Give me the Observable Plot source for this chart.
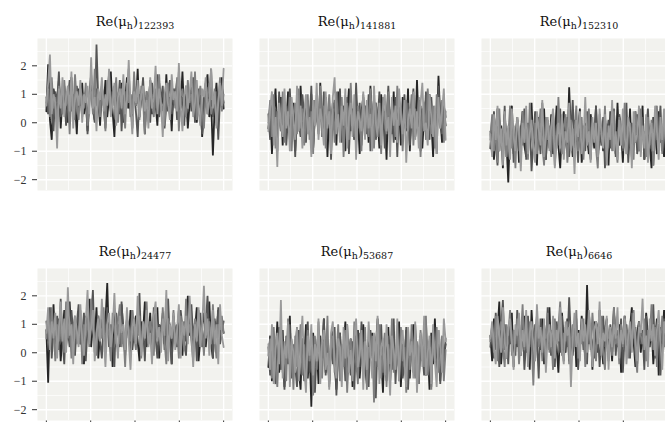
<!DOCTYPE html>
<html>
<head>
<meta charset="utf-8">
<script src="https://cdn.jsdelivr.net/npm/d3@7"></script>
<script src="https://cdn.jsdelivr.net/npm/@observablehq/plot@0.6"></script>
<style>
  html, body { margin: 0; padding: 0; background: #ffffff; overflow: hidden; width: 665px; height: 422px; }
  #chart svg { max-width: none !important; display: block; }
</style>
</head>
<body>
<div id="chart"></div>
<script>
// Trace plots of Re(mu_h) for six parameters, four chains each (thinned draws).
const parameters = ["122393", "141881", "152310", "24477", "53687", "6646"];
const chainNames = ["1", "2", "3", "4"];
const chainColors = ["#262626", "#555555", "#7f7f7f", "#9a9a9a"];

const yTicks = [-2, -1, 0, 1, 2];
const yGridMajor = [-2, -1, 0, 1, 2];
const yGridMinor = [-1.5, -0.5, 0.5, 1.5, 2.5];
const xTicks = [0, 250, 500, 750, 1000];
const xGridMinor = [125, 375, 625, 875];

const draws122393 = [
  [0.4,2.05,0.1,-0.6,1.2,0.8,0.3,1.5,-0.2,0.9,1.3,0.5,0.0,1.1,1.6,0.2,0.7,-0.4,1.2,0.6,1.4,0.3,0.9,-0.3,1.0,1.7,0.5,0.1,1.2,0.8,-0.1,1.3,0.6,1.5,0.2,0.9,1.8,0.4,-0.5,1.1,0.7,0.3,1.4,0.0,0.8,1.6,0.5,1.0,-0.2,1.3,0.6,1.9,0.2,0.8,1.2,-0.4,0.9,0.5,1.5,0.3,1.1,0.7,-0.1,1.4,0.6,1.0,0.2,1.7,0.4,0.9,-0.3,1.2,0.8,1.5,0.1,0.6,1.8,0.3,1.0,-0.2,0.7,1.3,0.5,1.6,0.0,0.9,1.2,-0.5,0.4,1.1,1.7,0.2,0.8,-1.15,0.6,1.4,0.1,0.9,1.6,0.5],
  [0.9,0.3,1.4,0.6,-0.3,1.1,0.7,1.8,0.2,0.5,1.2,-0.1,0.8,1.5,0.4,1.0,0.1,1.3,0.6,0.9,0.2,0.9,1.1,-0.4,0.7,1.4,0.5,0.0,2.75,0.8,0.3,1.2,0.6,-0.2,1.0,1.7,0.4,0.8,1.3,0.1,0.6,1.5,-0.3,0.9,1.1,0.5,1.9,0.2,0.7,1.2,0.4,-0.5,1.0,0.8,1.6,0.3,1.1,0.6,0.0,1.4,0.9,0.5,1.7,0.2,0.8,1.3,-0.2,0.6,1.0,1.5,0.3,0.7,1.2,0.1,1.8,0.5,0.9,-0.1,1.3,0.6,1.1,0.4,1.6,0.0,0.8,1.2,0.5,-0.4,1.0,1.4,0.3,0.7,1.9,0.2,0.6,1.1,-0.6,0.9,1.3,0.7],
  [0.7,1.2,0.2,1.6,0.5,0.9,-0.2,1.3,0.8,0.3,1.5,0.6,1.0,-0.4,1.1,0.4,1.7,0.7,0.1,1.2,0.9,0.5,1.4,-0.1,0.8,1.1,0.3,1.9,0.6,1.0,0.2,1.3,0.7,-0.3,1.5,0.8,0.4,1.1,0.6,1.6,0.0,0.9,1.2,0.5,-0.2,1.4,0.7,1.0,0.3,1.8,0.6,0.9,0.1,1.3,0.8,-0.4,1.1,0.5,1.5,0.7,0.2,1.2,0.9,1.7,0.4,0.6,-0.1,1.0,1.4,0.3,0.8,1.1,0.5,1.6,-0.3,0.9,1.2,0.6,0.2,1.5,0.7,1.0,0.4,1.8,0.1,0.8,1.3,0.5,-0.2,1.1,0.9,1.4,0.3,0.6,1.2,-0.1,0.8,1.6,0.4,1.0],
  [0.6,1.4,2.4,0.3,1.0,0.7,-0.9,1.2,0.5,1.6,0.2,0.9,1.3,0.4,1.8,-0.2,0.8,1.1,0.6,1.5,0.0,1.0,0.7,1.3,0.3,2.3,0.5,0.9,-0.3,1.2,0.8,1.6,0.4,1.0,0.6,1.9,0.2,0.7,1.4,-0.1,0.9,1.2,0.5,1.7,0.3,0.8,2.2,0.6,-0.4,1.1,0.7,1.5,0.2,1.0,1.3,0.4,0.8,-0.2,1.6,0.5,0.9,2.0,0.3,1.2,0.7,-0.5,1.0,1.4,0.6,0.1,1.7,0.8,1.1,0.4,2.1,0.6,-0.3,0.9,1.3,0.5,1.0,1.8,0.2,0.7,1.5,0.4,-0.1,1.2,0.9,1.6,0.3,0.8,1.9,0.5,1.1,-0.2,0.7,1.4,0.6,1.9]
];

const draws141881 = [
  [-0.2,0.6,-1.1,0.3,1.2,-0.5,0.1,0.9,-0.8,0.4,-0.1,1.1,-0.6,0.2,0.7,-1.0,0.5,-0.3,1.3,0.0,-0.7,0.8,0.2,-0.4,1.0,-0.9,0.3,0.6,-0.2,1.4,-0.5,0.1,0.9,-1.2,0.4,-0.1,0.7,0.2,-0.8,1.1,0.0,-0.4,0.6,-1.0,0.3,1.2,-0.3,0.5,-0.6,0.8,0.1,-1.1,0.4,0.9,-0.2,0.6,-0.7,1.3,0.0,-0.5,0.7,0.2,-0.9,1.0,-0.1,0.4,-1.3,0.8,0.3,-0.4,1.1,-0.6,0.2,0.5,-0.8,0.9,0.0,-0.3,1.2,-1.0,0.4,0.1,-0.5,1.5,-0.2,0.6,-0.9,0.3,0.8,-0.6,1.0,0.1,-1.2,0.5,-0.3,1.65,0.2,-0.7,0.6,-0.1],
  [0.3,-0.6,0.9,-0.2,0.5,-1.0,1.1,0.1,-0.4,0.7,-0.8,0.2,1.2,-0.3,0.4,-1.2,0.6,0.0,-0.5,1.0,0.3,-0.7,0.8,-0.1,1.3,-0.9,0.2,0.5,-0.4,0.9,-0.2,1.1,-0.6,0.1,0.6,-1.3,0.4,0.8,-0.3,0.0,1.2,-0.7,0.3,-0.1,0.9,-1.1,0.5,0.2,-0.5,1.4,-0.2,0.7,-0.8,0.1,0.6,-0.4,1.0,-1.0,0.3,0.8,-0.6,0.0,1.1,-0.3,0.5,-0.9,0.2,1.3,-0.1,0.4,-0.7,0.9,-1.2,0.6,0.1,-0.4,1.0,-0.2,0.7,-0.8,0.3,1.2,-0.5,0.0,0.8,-1.0,0.5,-0.3,1.1,0.2,-0.6,0.9,-0.1,0.4,-1.1,1.3,0.0,-0.4,0.6,0.2],
  [0.0,0.8,-0.5,1.0,-0.9,0.4,0.1,-0.3,1.1,-0.7,0.6,-0.1,0.9,-1.0,0.3,0.7,-0.4,1.2,-0.2,0.5,-0.8,0.2,1.0,-0.6,0.4,-1.1,0.8,0.1,-0.3,1.3,-0.5,0.6,-0.9,0.2,1.0,-0.2,0.5,-0.7,1.1,0.0,-0.4,0.9,-1.2,0.3,0.7,-0.6,1.4,-0.1,0.4,-0.8,0.6,0.2,-1.0,1.0,-0.3,0.5,-0.5,1.2,0.1,-0.9,0.7,-0.2,0.3,-1.1,0.9,0.0,-0.4,1.1,-0.7,0.5,0.2,-0.5,1.3,-0.1,0.6,-1.0,0.4,0.8,-0.3,0.1,1.0,-0.8,0.5,-0.2,0.9,-1.2,0.3,0.7,-0.6,1.2,0.0,-0.4,0.6,-0.9,1.0,0.2,-0.2,0.8,-0.7,0.4],
  [-0.3,0.5,1.1,-0.8,0.2,-1.55,0.7,0.0,-0.5,1.2,-0.2,0.4,-1.0,0.9,0.1,-0.6,1.3,-0.3,0.6,-0.9,0.3,1.0,-0.4,0.2,-1.2,0.8,-0.1,1.4,-0.6,0.5,0.0,-0.8,1.1,-0.2,0.4,-1.1,0.9,1.6,-0.4,0.3,-0.7,0.6,-0.1,1.2,-0.9,0.2,0.7,-0.5,1.0,-1.3,0.4,0.1,-0.3,1.1,-0.6,0.8,-0.2,0.3,-1.0,1.3,0.0,-0.5,0.7,-0.8,0.5,1.0,-0.3,0.2,-1.2,0.9,-0.1,0.6,-0.7,1.2,0.3,-0.4,0.8,-1.4,0.1,0.5,-0.2,1.1,-0.6,0.4,-0.9,0.7,1.4,-0.3,0.0,-0.8,1.0,0.2,-0.5,0.6,-1.1,0.9,-0.2,0.4,1.2,-0.6]
];

const draws152310 = [
  [-0.9,0.2,-1.3,-0.4,0.5,-1.0,-0.1,-1.6,0.3,-0.7,-2.1,-0.2,0.6,-1.1,-0.5,0.1,-1.4,-0.3,0.4,-0.8,-1.2,0.0,-0.6,0.7,-1.0,-0.2,-1.5,0.2,-0.7,-0.4,0.5,-1.3,-0.1,-0.9,0.3,-1.1,-0.5,0.6,-0.8,-1.6,-0.2,0.4,-0.7,-1.0,1.25,-0.4,-1.2,0.1,-0.6,-0.3,0.5,-1.4,-0.8,0.0,-0.5,-1.1,0.3,-0.2,-0.9,0.6,-1.3,-0.4,-0.1,-1.0,0.2,-0.7,-1.5,0.4,-0.6,-0.2,-1.1,0.7,-0.8,-0.3,-1.4,0.1,-0.5,-0.9,0.5,-1.2,-0.1,-0.7,0.3,-1.0,-0.4,0.6,-1.3,-0.6,0.0,-0.8,-1.6,0.2,-0.3,-1.1,0.4,-0.7,-0.2,-1.2,0.3,-0.5],
  [-0.3,-1.1,0.4,-0.7,-1.5,0.1,-0.4,-0.9,0.6,-1.2,-0.2,-0.6,0.3,-1.4,-0.5,0.2,-1.0,-0.1,-0.8,0.5,-1.3,-0.3,0.0,-1.7,-0.6,0.4,-0.9,-0.2,-1.1,0.7,-0.5,-1.3,0.1,-0.7,-0.4,0.3,-1.5,-0.1,-0.8,0.5,-1.0,-0.3,-0.6,0.2,-1.2,-0.4,0.8,-0.9,-0.2,-1.4,0.3,-0.6,-0.1,-1.0,0.4,-0.7,-1.3,0.0,-0.5,0.6,-1.1,-0.3,-0.8,0.2,-1.6,-0.4,0.1,-0.9,-0.2,0.5,-1.2,-0.6,0.3,-0.1,-1.0,-0.5,0.7,-1.4,-0.3,0.0,-0.8,0.4,-1.1,-0.2,-0.7,0.2,-1.3,-0.4,0.5,-0.9,-0.1,-1.5,0.3,-0.6,-0.3,0.6,-1.0,-0.5,0.1,-0.8],
  [-0.6,0.3,-1.0,-0.2,-1.4,0.5,-0.8,-0.3,0.1,-1.2,-0.5,0.6,-0.9,-0.1,-1.6,0.2,-0.4,-1.0,0.4,-0.7,-0.2,-1.3,0.7,-0.5,-0.9,0.0,-1.1,-0.3,0.5,-0.8,-1.5,0.2,-0.6,-0.1,-1.2,0.4,-0.4,-0.9,0.9,-0.7,-1.1,-0.2,0.3,-1.4,-0.5,0.1,-0.8,-0.3,0.6,-1.0,-0.6,0.2,-1.3,-0.1,-0.7,0.5,-1.1,-0.4,0.0,-0.9,-1.6,0.3,-0.2,-0.8,0.6,-1.2,-0.5,-0.1,-1.0,0.4,-0.6,-1.4,0.2,-0.3,-0.9,0.7,-1.1,-0.4,0.0,-0.7,-1.3,0.4,-0.2,-1.0,0.5,-0.6,-0.3,-1.2,0.2,-0.8,0.1,-1.5,-0.4,0.6,-0.9,-0.1,-1.1,0.3,-0.6,-0.2],
  [-0.4,-1.2,0.3,-0.6,0.6,-1.0,-0.2,-1.5,0.4,-0.8,-0.1,-1.3,0.5,-0.5,-1.0,0.2,-0.3,-1.7,0.0,-0.7,0.6,-1.1,-0.4,0.1,-0.9,-1.4,0.4,-0.2,-0.8,0.8,-1.2,-0.5,0.2,-1.0,-0.1,0.5,-1.6,-0.6,0.0,-0.9,0.3,-1.3,-0.3,-0.7,0.7,-1.0,-0.2,-1.8,0.1,-0.5,0.4,-1.1,-0.6,0.9,-0.8,-0.3,-1.4,0.2,-0.7,0.0,-1.2,0.5,-0.4,-0.9,0.3,-1.5,-0.1,-0.6,0.8,-1.0,-0.3,-1.3,0.1,-0.8,0.5,-0.5,-1.1,0.2,-0.2,-1.6,0.4,-0.7,-0.4,0.6,-1.2,-0.1,-0.9,0.3,-1.4,-0.5,0.0,-1.0,0.6,-0.3,-1.3,0.2,-0.6,0.5,-0.9,-0.2]
];

const draws24477 = [
  [0.8,-1.05,1.3,0.4,1.7,0.1,0.9,1.2,-0.3,0.6,1.5,0.2,1.0,1.8,0.5,-0.1,1.1,0.7,1.4,0.3,0.8,-0.4,1.3,0.6,1.9,0.2,1.0,0.5,1.6,-0.2,0.7,1.2,0.4,1.1,2.45,0.3,0.9,-0.5,1.4,0.6,1.0,0.2,1.7,0.8,-0.1,1.2,0.5,1.5,0.1,0.9,1.3,0.4,-0.3,1.1,0.7,1.8,0.2,0.6,1.4,0.0,1.0,0.5,1.6,-0.2,0.8,1.2,0.3,1.9,0.6,1.0,-0.4,1.3,0.7,0.2,1.5,0.9,-0.1,1.1,0.4,2.0,0.6,1.2,0.1,0.8,1.6,-0.3,0.5,1.0,1.4,0.2,0.9,1.8,0.3,-0.2,1.1,0.6,1.5,0.4,1.0,0.7],
  [1.1,0.4,1.6,-0.2,0.9,0.6,1.3,0.1,1.9,0.5,-0.4,1.2,0.8,0.2,1.5,0.7,-0.1,1.0,1.7,0.3,0.6,1.4,-0.3,0.9,0.5,1.2,2.2,0.0,0.8,1.3,0.4,-0.2,1.1,0.7,1.6,0.2,1.0,0.5,-0.5,1.4,0.9,0.3,1.8,0.6,0.1,1.2,0.8,-0.1,1.5,0.4,1.0,0.6,2.1,0.2,0.9,-0.3,1.3,0.7,1.1,0.3,1.6,0.5,-0.2,1.0,0.8,1.4,0.1,0.7,1.9,0.4,-0.4,1.2,0.6,1.0,0.2,1.5,0.9,0.3,-0.1,1.3,0.7,1.7,0.5,1.1,-0.3,0.8,1.4,0.2,0.6,1.0,2.0,0.4,0.9,-0.2,1.2,0.6,1.6,0.3,0.8,1.1],
  [0.5,1.2,0.2,1.6,0.8,-0.3,1.0,0.4,1.4,0.7,0.0,1.8,0.5,1.1,-0.2,0.9,1.3,0.3,0.7,1.5,-0.4,1.0,0.6,1.2,0.2,1.9,0.8,0.4,-0.1,1.3,0.9,0.5,1.6,0.1,1.0,0.6,-0.3,1.4,0.8,0.3,1.1,1.7,0.2,0.7,-0.5,1.2,0.9,0.4,1.5,0.6,0.1,1.0,1.3,-0.2,0.8,0.5,1.8,0.3,1.1,0.7,-0.1,1.4,0.6,0.9,0.2,1.6,0.4,-0.4,1.2,1.0,0.5,1.5,0.3,0.8,-0.2,1.3,0.7,0.1,1.9,0.6,1.0,0.4,-0.3,1.2,0.8,1.5,0.2,0.9,-0.1,1.4,0.6,1.1,0.3,1.7,0.5,-0.2,1.0,0.8,1.3,0.7],
  [0.7,1.6,0.1,1.1,0.5,1.4,-0.2,0.9,1.8,0.4,1.2,0.0,2.3,0.6,1.0,-0.4,1.3,0.8,0.2,1.7,0.5,-0.1,1.1,2.2,0.3,0.9,1.5,-0.3,0.7,1.2,0.4,1.9,0.6,-0.5,1.0,1.4,0.2,0.8,2.1,0.5,-0.2,1.3,0.7,1.0,0.1,1.6,0.4,-0.6,0.9,1.2,0.3,2.0,0.8,-0.1,1.1,0.5,1.5,0.2,0.7,-0.4,1.3,1.8,0.4,0.9,0.0,1.2,0.6,2.2,-0.3,1.0,0.5,1.4,0.1,0.8,1.7,-0.2,1.1,0.6,1.3,0.3,2.0,0.7,-0.5,1.0,0.4,1.6,0.2,0.9,2.35,0.5,1.2,-0.1,0.8,1.5,0.3,1.0,-0.4,1.7,0.6,0.2]
];

const draws53687 = [
  [-0.5,0.6,-1.0,0.3,-0.2,1.1,-0.7,0.0,0.8,-1.2,0.4,-0.4,1.3,-0.8,0.2,-0.1,0.9,-0.6,-1.3,0.5,-0.3,1.0,-0.9,0.1,-1.9,0.7,-0.5,0.3,-1.1,0.6,-0.2,1.2,-0.7,0.0,-1.0,0.4,0.9,-0.4,-1.3,0.2,0.7,-0.8,0.1,1.1,-0.6,-0.1,0.5,-1.2,0.3,-0.4,0.8,-0.9,0.0,1.0,-0.5,-1.1,0.4,-0.2,0.7,-0.8,0.2,1.2,-0.6,-0.1,-1.4,0.5,-0.3,0.9,-1.0,0.1,0.6,-0.7,-0.2,1.1,-1.2,0.3,-0.5,0.8,-0.1,-0.9,0.4,1.0,-0.6,0.0,-1.1,0.6,-0.3,0.9,-0.8,0.2,-1.3,0.7,-0.4,1.2,-0.7,0.1,-1.0,0.5,-0.2,0.3],
  [0.2,-0.8,0.7,-0.3,-1.1,0.4,0.9,-0.6,0.0,-1.3,0.6,-0.2,1.0,-0.9,0.3,-0.5,-1.2,0.8,-0.1,0.5,-1.0,0.2,1.1,-0.7,-0.3,0.6,-1.4,0.1,0.8,-0.5,-0.1,1.2,-0.8,0.3,-1.1,0.5,-0.4,0.9,-1.5,0.0,0.7,-0.6,0.2,-1.0,1.0,-0.2,-0.8,0.4,-1.3,0.6,0.1,-0.5,1.1,-0.9,0.3,-0.3,-1.2,0.8,-0.1,0.4,-1.6,0.5,-0.4,1.0,-0.7,0.2,-1.0,0.6,0.0,-0.6,1.2,-1.1,0.3,-0.2,0.7,-0.9,-0.4,0.9,-1.3,0.1,0.5,-0.7,1.0,-0.3,-1.0,0.4,0.0,-0.8,1.1,-0.5,0.2,-1.2,0.6,-0.1,-0.6,0.8,-1.1,0.3,-0.4,0.5],
  [-0.1,0.5,-0.9,0.9,-0.4,-1.2,0.3,0.7,-0.7,0.1,-1.0,1.2,-0.2,0.4,-1.3,0.6,-0.5,0.0,1.0,-0.8,0.3,-1.1,0.8,-0.3,0.2,-1.5,0.6,-0.6,1.1,-0.1,-0.9,0.4,-0.4,1.3,-1.2,0.1,0.6,-0.7,-0.2,1.0,-1.0,0.3,-0.5,0.8,-1.4,0.0,0.5,-0.8,1.1,-0.3,-1.1,0.7,0.1,-0.6,0.9,-1.3,0.2,-0.2,0.6,-1.75,0.4,-0.5,1.0,-0.9,0.0,0.7,-1.2,0.3,-0.4,1.2,-0.7,-0.1,0.5,-1.0,0.9,-0.3,0.2,-1.4,0.6,-0.6,1.0,-0.2,-0.9,0.4,-1.1,0.8,0.0,-0.5,1.3,-0.8,0.2,-1.3,0.5,-0.3,0.9,-0.7,-0.1,0.6,-1.0,0.1],
  [0.3,-0.6,1.0,-1.1,0.1,0.7,-0.4,1.85,-0.9,0.4,-0.2,1.1,-1.2,0.5,0.0,-0.7,0.9,-1.0,0.2,1.3,-0.5,-1.4,0.6,-0.1,1.0,-0.8,0.3,-0.3,1.2,-1.1,0.4,0.8,-0.6,0.0,-1.3,0.7,1.1,-0.4,-0.9,0.5,0.2,-1.2,0.9,-0.2,1.0,-0.7,0.1,-1.0,0.6,1.2,-0.5,-0.1,0.8,-1.3,0.4,-0.6,1.1,0.0,-0.9,0.7,-0.3,1.3,-1.1,0.2,0.5,-0.8,1.0,-0.2,-1.5,0.6,0.1,-0.6,1.2,-1.0,0.3,0.8,-0.4,-1.2,0.9,-0.1,0.4,-0.9,1.1,-1.4,0.2,0.7,-0.5,1.3,-0.8,0.0,0.6,-1.1,1.0,-0.3,-1.2,0.8,0.2,-0.7,1.2,0.4]
];

const draws6646 = [
  [0.6,-0.3,1.2,0.1,0.8,1.8,-0.4,0.5,1.0,-0.2,0.9,0.3,1.4,-0.5,0.7,0.2,1.1,-0.1,0.6,1.3,0.0,0.9,-0.6,1.5,0.4,-0.2,1.0,0.7,0.1,1.2,-0.4,0.8,0.3,1.6,-0.1,0.6,1.1,0.2,-0.7,0.9,1.4,0.4,0.0,1.2,-0.3,0.7,0.5,1.0,-0.5,0.8,0.2,1.3,0.6,-0.2,2.38,0.3,0.9,-0.6,1.1,0.5,0.0,1.5,0.4,-0.4,0.8,1.2,0.1,0.6,-0.3,1.4,0.7,0.2,1.0,-0.7,0.5,1.3,0.3,-0.1,0.9,1.6,0.4,-0.5,0.7,1.1,0.0,0.8,-0.2,1.4,0.6,0.2,1.0,-0.4,0.5,1.2,-0.8,0.9,0.3,1.5,0.1,0.7],
  [0.2,1.0,-0.2,1.4,0.5,-0.5,0.9,1.85,0.1,0.7,-0.4,1.2,0.3,0.8,-0.1,1.5,0.6,0.0,1.1,-0.6,0.4,1.3,0.2,0.9,-0.3,1.0,0.5,-0.9,1.2,0.3,0.7,-0.2,1.6,0.1,0.8,0.4,-0.5,1.1,0.6,0.0,1.3,-0.3,0.9,0.2,1.95,0.5,-0.1,0.7,1.2,-0.6,0.4,1.0,0.1,0.8,-0.4,1.4,0.6,0.3,-0.2,1.1,0.9,-0.5,0.5,1.3,0.2,0.7,-0.3,1.0,0.4,1.6,-0.1,0.8,0.3,1.2,-0.7,0.6,1.0,0.2,-0.2,1.4,0.5,0.9,-0.4,1.1,0.3,0.7,-0.6,1.3,0.1,0.8,0.4,1.7,-0.2,0.6,1.0,-0.8,0.5,1.2,0.2,0.9],
  [0.4,0.9,0.0,1.3,-0.3,0.7,1.1,0.2,-0.5,1.0,0.6,1.5,-0.1,0.8,0.3,1.2,-0.4,0.5,1.7,0.1,0.9,-0.2,1.1,0.4,-1.15,0.7,1.3,0.2,0.8,-0.3,1.0,0.5,1.4,0.0,0.6,-0.6,1.2,0.3,0.9,1.8,-0.1,0.7,0.4,1.1,-0.4,0.5,1.0,0.2,1.5,-0.2,0.8,0.3,1.2,-0.5,0.6,1.0,0.1,1.4,0.4,-0.3,0.9,0.7,1.3,0.0,-0.6,1.1,0.5,0.8,-0.1,1.6,0.3,0.6,-0.4,1.0,0.2,1.3,0.7,-0.2,0.9,0.4,1.5,0.0,-0.7,1.1,0.6,0.3,1.2,-0.3,0.8,0.5,1.7,0.1,0.9,-0.5,1.0,0.4,1.3,0.2,0.7,-0.1],
  [0.5,1.1,0.2,-0.4,1.3,0.7,0.0,1.6,0.4,-0.2,0.9,1.2,0.3,-0.6,1.0,0.6,1.4,-0.1,0.8,0.2,1.5,-0.5,0.7,1.1,0.3,-0.3,1.7,0.5,0.9,0.0,1.2,-0.7,0.6,1.0,0.2,1.3,-0.2,0.8,0.4,1.6,0.1,-0.4,1.1,0.6,0.9,-1.2,0.5,1.4,0.2,0.7,-0.3,1.2,0.4,1.0,0.0,1.5,0.6,-0.5,0.8,1.1,0.3,1.8,-0.1,0.7,0.4,1.3,-0.6,0.9,0.2,1.0,0.5,1.6,-0.2,0.8,0.3,1.2,-0.4,0.6,1.1,0.0,1.4,0.5,-0.3,0.9,0.7,1.9,0.1,0.6,-0.5,1.2,0.4,1.0,-0.1,0.8,1.5,0.3,-0.6,1.1,0.6,1.3]
];

const drawsByParameter = [draws122393, draws141881, draws152310, draws24477, draws53687, draws6646];
const totalIterations = 1000;

// Panels laid out in a 3 x 2 grid, in parameter order.
const panels = parameters.map((id, k) => ({id, col: k % 3, row: Math.floor(k / 3)}));

// Long table: one row per draw.
const traces = [];
panels.forEach((p, k) => {
  drawsByParameter[k].forEach((chain, c) => {
    const n = chain.length;
    chain.forEach((value, i) => {
      traces.push({
        col: p.col, row: p.row,
        chain: chainNames[c],
        iteration: i * totalIterations / (n - 1),
        value
      });
    });
  });
});

const minusFormat = d => (d < 0 ? "\u2212" + Math.abs(d) : String(d));

const chart = Plot.plot({
  width: 676,
  height: 450,
  marginLeft: 37,
  marginRight: 0,
  marginTop: 38,
  marginBottom: 30,
  style: {fontFamily: "'Liberation Serif', serif", fontSize: "12px", color: "#333333", background: "#ffffff", maxWidth: "none"},
  fx: {domain: [0, 1, 2], axis: null, paddingInner: 27 / 222, paddingOuter: 0},
  fy: {domain: [0, 1], axis: null, paddingInner: 78 / 230, paddingOuter: 0},
  // bottom-row x labels fall below the visible area; only the tick marks show
  x: {domain: [-50, 1050], ticks: xTicks, tickSize: 4, tickFormat: () => "", label: null},
  y: {domain: [-2.38, 2.96], ticks: yTicks, tickSize: 5, tickPadding: 6, tickFormat: minusFormat, label: null},
  color: {domain: chainNames, range: chainColors},
  marks: [
    Plot.frame({fill: "#f2f2ee", stroke: "none"}),
    Plot.ruleY(yGridMinor, {stroke: "#ffffff", strokeWidth: 0.7}),
    Plot.ruleX(xGridMinor, {stroke: "#ffffff", strokeWidth: 0.7}),
    Plot.ruleY(yGridMajor, {stroke: "#ffffff", strokeWidth: 1.4}),
    Plot.ruleX(xTicks, {stroke: "#ffffff", strokeWidth: 1.4}),
    Plot.line(traces, {
      fx: "col", fy: "row",
      x: "iteration", y: "value",
      z: "chain", stroke: "chain",
      strokeWidth: 1.8,
      strokeLinejoin: "miter",
      strokeMiterlimit: 1
    }),
    Plot.text(panels, {
      fx: "col", fy: "row",
      frameAnchor: "top", lineAnchor: "bottom", dy: -13,
      text: "id",
      fontFamily: "'DejaVu Serif', serif",
      fontSize: 13, fill: "#111111"
    })
  ]
});

// Facet titles: Re(mu_h) with the parameter index as a subscript.
const ns = "http://www.w3.org/2000/svg";
chart.querySelectorAll('g[aria-label="text"] text').forEach(t => {
  const id = t.textContent;
  t.textContent = "";
  const part = (s, attrs = {}) => {
    const ts = document.createElementNS(ns, "tspan");
    ts.textContent = s;
    for (const [k, v] of Object.entries(attrs)) ts.setAttribute(k, v);
    t.appendChild(ts);
  };
  part("Re(\u03bc");
  part("h", {"font-size": 9.5, dy: 3.5});
  part(")", {dy: -3.5});
  part(id, {"font-size": 9.5, dy: 3.5});
});

document.getElementById("chart").appendChild(chart);
</script>
</body>
</html>
